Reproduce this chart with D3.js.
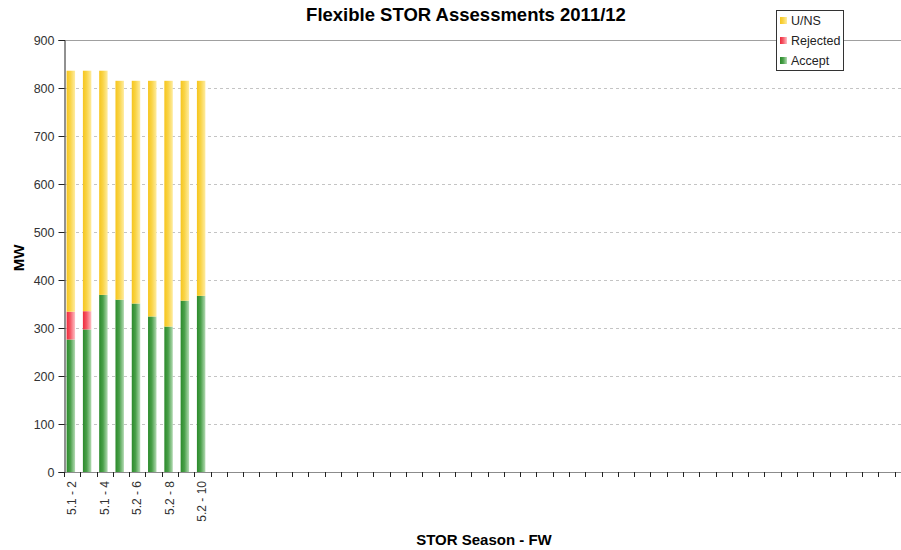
<!DOCTYPE html>
<html>
<head>
<meta charset="utf-8">
<script src="https://cdn.jsdelivr.net/npm/d3@7"></script>
<style>
  body { margin: 0; background: #fff; }
  svg { display: block; overflow: hidden; }
</style>
</head>
<body>
<svg id="chart" width="901" height="550"></svg>
<script>
// first nine weeks filled, the rest of the year's slots empty
const categories = ['5.1 - 2', '5.1 - 3', '5.1 - 4', '5.1 - 5', '5.2 - 6', '5.2 - 7', '5.2 - 8', '5.2 - 9', '5.2 - 10'];
const slotCount = 52;
const accept = [276, 297, 369, 359, 351, 324, 303, 357, 367];
const rejected = [58, 38, 0, 0, 0, 0, 0, 0, 0];
const totals = [836, 836, 836, 815, 815, 815, 815, 815, 815];
const yTicks = [0, 100, 200, 300, 400, 500, 600, 700, 800, 900];
const seriesNames = ['Accept', 'Rejected', 'U/NS'];

const width = 901;
const height = 550;
const margin = ({ top: 40, right: -10, bottom: 78, left: 64 });

const svg = d3.select('#chart');

const rows = categories.map((c, i) => ({
  cat: c,
  slot: i,
  Accept: accept[i],
  Rejected: rejected[i],
  'U/NS': totals[i] - accept[i] - rejected[i],
}));

const x = d3.scaleBand()
  .domain(d3.range(slotCount))
  .range([margin.left, width - margin.right])
  .padding(0);

const y = d3.scaleLinear()
  .domain([0, 900])
  .range([height - margin.bottom, margin.top]);

const grads = {
  Accept: ['#2b8a2b', '#4aa04a', '#b4dbb4'],
  Rejected: ['#ee2a3c', '#f55a68', '#ffc0c6'],
  'U/NS': ['#f6c51e', '#f9d447', '#feeca0'],
};

const defs = svg.append('defs');
for (const key of seriesNames) {
  const g = defs.append('linearGradient')
    .attr('id', 'g-' + key.replace('/', ''))
    .attr('x1', '0%').attr('x2', '100%').attr('y1', '0%').attr('y2', '0%');
  g.append('stop').attr('offset', '0%').attr('stop-color', grads[key][0]);
  g.append('stop').attr('offset', '45%').attr('stop-color', grads[key][1]);
  g.append('stop').attr('offset', '100%').attr('stop-color', grads[key][2]);
}
const fillOf = key => `url(#g-${key.replace('/', '')})`;

// grid
svg.append('g')
  .selectAll('line')
  .data(yTicks.filter(d => d > 0 && d < 900))
  .join('line')
  .attr('x1', margin.left)
  .attr('x2', width)
  .attr('y1', d => y(d) + 0.5)
  .attr('y2', d => y(d) + 0.5)
  .attr('stroke', '#c4c4c4')
  .attr('stroke-dasharray', '3,3');

svg.append('line')
  .attr('x1', margin.left).attr('x2', width)
  .attr('y1', y(900) + 0.5).attr('y2', y(900) + 0.5)
  .attr('stroke', '#a0a0a0');

// bars
const stack = d3.stack().keys(seriesNames)(rows);
const bw = x.bandwidth() * 0.52;

svg.append('g')
  .selectAll('g')
  .data(stack)
  .join('g')
  .attr('fill', d => fillOf(d.key))
  .selectAll('rect')
  .data(d => d.filter(p => p[1] > p[0]))
  .join('rect')
  .attr('x', d => x(d.data.slot) + x.bandwidth() * 0.16)
  .attr('width', bw)
  .attr('y', d => y(d[1]))
  .attr('height', d => y(d[0]) - y(d[1]));

// x axis
const xa = svg.append('g');
xa.append('line')
  .attr('x1', margin.left).attr('x2', width)
  .attr('y1', y(0) + 0.5).attr('y2', y(0) + 0.5)
  .attr('stroke', '#8c8c8c').attr('stroke-width', 1.2);
xa.selectAll('.tk')
  .data(d3.range(slotCount + 1))
  .join('line')
  .attr('x1', d => Math.round(margin.left + d * x.step()) + 0.5)
  .attr('x2', d => Math.round(margin.left + d * x.step()) + 0.5)
  .attr('y1', y(0))
  .attr('y2', y(0) + 5)
  .attr('stroke', '#222');
xa.selectAll('text')
  .data(rows.filter((d, i) => i % 2 === 0))
  .join('text')
  .attr('transform', d => `translate(${x(d.slot) + x.bandwidth() / 2 + 4},${y(0) + 9}) rotate(-90)`)
  .attr('text-anchor', 'end')
  .attr('font-family', 'Liberation Sans, Arial, sans-serif')
  .attr('font-size', 12)
  .attr('fill', '#333')
  .text(d => d.cat);

// y axis
const yAxis = g => g
  .attr('transform', `translate(${margin.left + 0.5},0)`)
  .call(d3.axisLeft(y).tickValues(yTicks).tickSize(6).tickPadding(4))
  .call(g => g.select('.domain').attr('stroke', '#222'))
  .call(g => g.selectAll('.tick line').attr('stroke', '#222'))
  .call(g => g.selectAll('.tick text')
    .attr('font-family', 'Liberation Sans, Arial, sans-serif')
    .attr('font-size', 12.5)
    .attr('fill', '#333'));
svg.append('g').call(yAxis);

// titles
svg.append('text')
  .attr('x', 466).attr('y', 21)
  .attr('text-anchor', 'middle')
  .attr('font-family', 'Liberation Sans, Arial, sans-serif')
  .attr('font-size', 18.5)
  .attr('font-weight', 'bold')
  .text('Flexible STOR Assessments 2011/12');

svg.append('text')
  .attr('x', 484).attr('y', 545)
  .attr('text-anchor', 'middle')
  .attr('font-family', 'Liberation Sans, Arial, sans-serif')
  .attr('font-size', 15)
  .attr('font-weight', 'bold')
  .text('STOR Season - FW');

svg.append('text')
  .attr('transform', 'translate(24,258) rotate(-90)')
  .attr('text-anchor', 'middle')
  .attr('font-family', 'Liberation Sans, Arial, sans-serif')
  .attr('font-size', 15)
  .attr('font-weight', 'bold')
  .text('MW');

// legend
const legend = svg.append('g').attr('transform', 'translate(776,10)');
legend.append('rect')
  .attr('x', 0.5).attr('y', 0.5)
  .attr('width', 67).attr('height', 60)
  .attr('fill', '#fff')
  .attr('stroke', '#333');
const li = legend.selectAll('g')
  .data(seriesNames.slice().reverse())
  .join('g')
  .attr('transform', (d, i) => `translate(4,${11 + i * 20})`);
li.append('rect')
  .attr('x', 0).attr('y', -4)
  .attr('width', 7).attr('height', 7)
  .attr('fill', d => fillOf(d));
li.append('text')
  .attr('x', 11).attr('y', 0)
  .attr('dy', '0.35em')
  .attr('font-family', 'Liberation Sans, Arial, sans-serif')
  .attr('font-size', 12.5)
  .attr('fill', '#222')
  .text(d => d);
</script>
</body>
</html>
